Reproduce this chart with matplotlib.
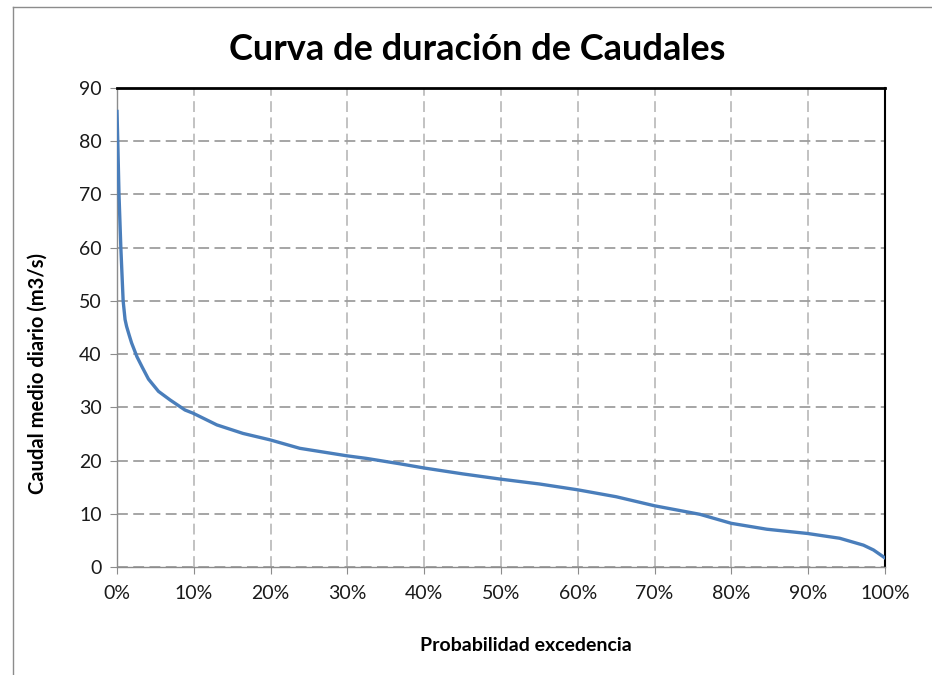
import numpy as np
import matplotlib.pyplot as plt
from matplotlib.ticker import PercentFormatter, MultipleLocator
from matplotlib.lines import Line2D

# curva de duracion (probabilidad de excedencia, caudal m3/s)
prob = [0, 0.001, 0.0026, 0.005, 0.008, 0.0105, 0.0125, 0.016, 0.019, 0.026,
        0.033, 0.041, 0.054, 0.069, 0.0885, 0.099, 0.13, 0.164, 0.199, 0.238,
        0.299, 0.325, 0.368, 0.40, 0.45, 0.50, 0.55, 0.60, 0.65, 0.70,
        0.759, 0.80, 0.846, 0.899, 0.941, 0.972, 0.985, 0.999]
caudal = [85.6, 80, 70, 60, 50, 46.5, 45.2, 43.5, 42.1, 39.5,
          37.5, 35.3, 33.0, 31.4, 29.5, 28.9, 26.7, 25.1, 23.9, 22.3,
          20.9, 20.4, 19.4, 18.6, 17.5, 16.5, 15.6, 14.5, 13.2, 11.5,
          9.9, 8.2, 7.1, 6.3, 5.4, 4.1, 3.2, 1.8]

titulo = 'Curva de duración de Caudales'
xlab = 'Probabilidad excedencia'
ylab = 'Caudal medio diario (m3/s)'

plt.rcParams['font.family'] = ['Lato', 'DejaVu Sans']

fig = plt.figure(figsize=(9.32, 6.75), dpi=100)
fig.subplots_adjust(left=117/932, right=885/932, top=1-88/675, bottom=1-567/675)
ax = fig.add_subplot(111)

ax.plot(prob, caudal, color='#4A7EBB', lw=2.4, zorder=3)

ax.set_xlim(0, 1)
ax.set_ylim(0, 90)
ax.xaxis.set_major_locator(MultipleLocator(0.1))
ax.xaxis.set_major_formatter(PercentFormatter(1.0, decimals=0))
ax.yaxis.set_major_locator(MultipleLocator(10))

ax.grid(axis='y', color='#9E9E9E', ls=(0, (6, 3)), lw=1.3)
ax.grid(axis='x', color='#BDBDBD', ls=(0, (6, 3)), lw=1.3)
ax.set_axisbelow(True)

for s in ['left', 'bottom']:
    ax.spines[s].set_color('#8C8C8C')
    ax.spines[s].set_linewidth(1.0)
ax.spines['top'].set_color('black')
ax.spines['top'].set_linewidth(2.0)
ax.spines['right'].set_color('black')
ax.spines['right'].set_linewidth(1.5)

ax.tick_params(axis='both', direction='out', length=5, color='#8C8C8C',
               labelsize=14, labelcolor='#1a1a1a')
ax.tick_params(axis='x', pad=8)
ax.tick_params(axis='y', pad=6)

ax.set_title(titulo, fontsize=26, fontweight='bold', pad=20, x=0.469)
ax.set_xlabel(xlab, fontsize=14, fontweight='bold')
ax.xaxis.set_label_coords(0.533, -0.146)
ax.set_ylabel(ylab, fontsize=14.5, fontweight='bold')
ax.yaxis.set_label_coords(-0.09, 0.405)

# marco exterior del grafico
fig.add_artist(Line2D([13/932, 13/932], [0, 1-7/675], transform=fig.transFigure,
                      color='#8C8C8C', lw=1.0))
fig.add_artist(Line2D([13/932, 1], [1-7/675, 1-7/675], transform=fig.transFigure,
                      color='#8C8C8C', lw=1.0))

plt.savefig('out.png', dpi=100)
